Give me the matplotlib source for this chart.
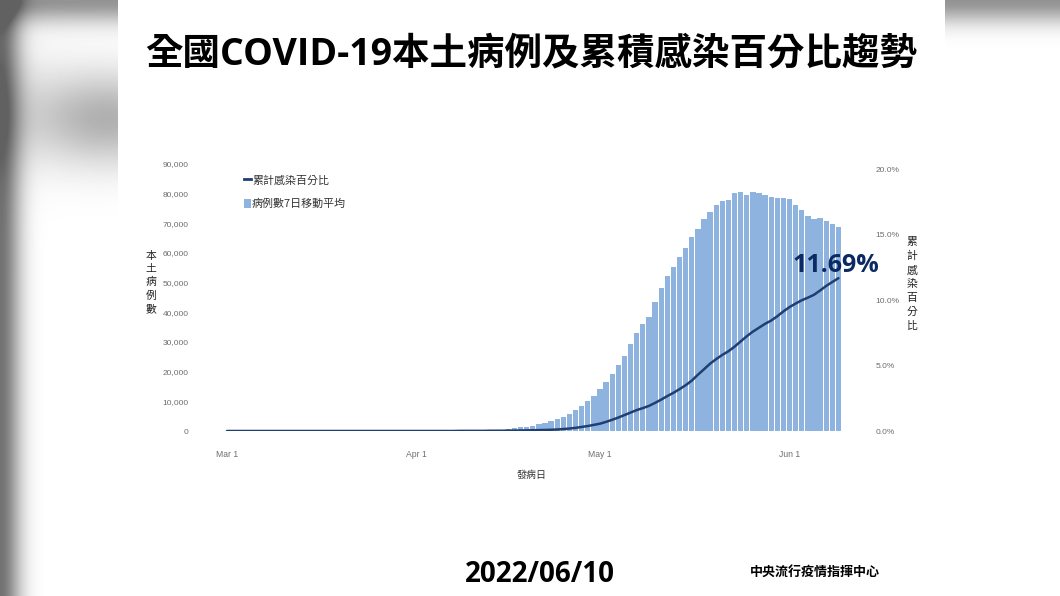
"""
全國COVID-19本土病例及累積感染百分比趨勢
"""

import numpy as np
import pandas as pd
import matplotlib
matplotlib.use('Agg')
import matplotlib.pyplot as plt
import matplotlib.dates as mdates
from matplotlib.lines import Line2D
from matplotlib.patches import Patch, Rectangle

plt.rcParams['font.family'] = ['Noto Sans CJK TC', 'DejaVu Sans']

W, H = 1060, 596
LATIN_CJK = ['Open Sans', 'Noto Sans CJK TC']

# ============================================================================
# DATA
# ============================================================================

dates = pd.date_range('2022-03-01', '2022-06-09')

cases_7d = [
    10, 10, 10, 10, 12, 12, 12, 12, 15, 15,
    15, 15, 15, 18, 18, 18, 18, 20, 20, 20,
    20, 22, 22, 25, 25, 25, 28, 30, 30, 32,
    35, 35, 40, 40, 45, 50, 55, 65, 80, 100,
    130, 170, 220, 280, 350, 450, 600, 900, 1200, 1450,
    1700, 2200, 2700, 3300, 3900, 4600, 5600, 7000, 8300, 10000,
    11700, 14000, 16400, 19300, 22200, 25200, 29300, 33200, 35900, 38400,
    43500, 48100, 52400, 55400, 58500, 61800, 65400, 68100, 71300, 73700,
    76300, 77600, 78000, 80200, 80500, 79600, 80500, 80100, 79700, 79000,
    78600, 78600, 78200, 76100, 74600, 72500, 71600, 71800, 70700, 69900,
    68600,
]

cum_pct = [
    0.00, 0.00, 0.00, 0.00, 0.00, 0.00, 0.00, 0.00, 0.00, 0.00,
    0.00, 0.00, 0.00, 0.00, 0.00, 0.00, 0.00, 0.00, 0.00, 0.00,
    0.00, 0.00, 0.00, 0.00, 0.00, 0.00, 0.00, 0.00, 0.00, 0.00,
    0.00, 0.00, 0.00, 0.00, 0.00, 0.00, 0.00, 0.00, 0.01, 0.01,
    0.01, 0.01, 0.01, 0.02, 0.02, 0.02, 0.03, 0.03, 0.04, 0.05,
    0.06, 0.07, 0.08, 0.095, 0.115, 0.15, 0.19, 0.24, 0.31, 0.38,
    0.47, 0.56, 0.70, 0.86, 1.03, 1.22, 1.41, 1.60, 1.75, 1.92,
    2.15, 2.40, 2.67, 2.92, 3.20, 3.50, 3.85, 4.30, 4.72, 5.15,
    5.50, 5.82, 6.10, 6.45, 6.85, 7.25, 7.60, 7.90, 8.20, 8.45,
    8.78, 9.15, 9.48, 9.75, 10.00, 10.20, 10.42, 10.75, 11.10, 11.40,
    11.69,
]

left_ticks = [0, 10000, 20000, 30000, 40000, 50000, 60000, 70000, 80000, 90000]
right_ticks = [0, 5, 10, 15, 20]
month_ticks = ['2022-03-01', '2022-04-01', '2022-05-01', '2022-06-01']

BAR_COLOR = '#8fb3df'
LINE_COLOR = '#1f3f73'
TICK_COLOR = '#6e6e6e'


def px(x, y):
    """pixel position (from top left) to figure fraction"""
    return x / W, 1 - y / H


# ============================================================================
# BACKGROUND
# ============================================================================

fig = plt.figure(figsize=(W / 100, H / 100), dpi=100, facecolor='white')

bg = fig.add_axes([0, 0, 1, 1], zorder=0)
xx, yy = np.meshgrid(np.arange(W), np.arange(H))
dark = 0.55 * np.exp(-(xx / 20.0) ** 2)
dark = dark + 0.30 * np.exp(-((xx - 110) / 75.0) ** 2 - ((yy - 118) / 46.0) ** 2)
dark = dark + 0.10 * np.exp(-(xx / 70.0) ** 2 - ((yy - 110) / 60.0) ** 2)
dark = dark + 0.42 * np.exp(-(yy / 22.0) ** 2)
bg.imshow(1 - np.clip(dark, 0, 0.62), cmap='gray', vmin=0, vmax=1, aspect='auto',
          extent=[0, W, H, 0], interpolation='bilinear')
bg.add_patch(Rectangle((118, 0), 827, H, color='white', lw=0))
bg.set_xlim(0, W)
bg.set_ylim(H, 0)
bg.axis('off')

# ============================================================================
# CHART
# ============================================================================

ax_l, ax_r, ax_t, ax_b = 215, 850, 164, 431
ax = fig.add_axes([ax_l / W, 1 - ax_b / H, (ax_r - ax_l) / W, (ax_b - ax_t) / H], zorder=1)
ax.patch.set_alpha(0)

day_px = 6.115
x0 = mdates.date2num(dates[0])
ax.set_xlim(x0 - (227 - ax_l) / day_px, x0 + (ax_r - 227) / day_px)

ax.bar(dates, cases_7d, width=0.87, color=BAR_COLOR, linewidth=0)
ax.set_ylim(0, 90000)
ax.set_yticks(left_ticks)
ax.set_yticklabels([f'{v:,}' for v in left_ticks], family='Liberation Sans',
                   fontsize=6, color=TICK_COLOR)
ax.set_xticks(pd.to_datetime(month_ticks))
ax.set_xticklabels(['Mar 1', 'Apr 1', 'May 1', 'Jun 1'], family='Liberation Sans',
                   fontsize=6.2, color=TICK_COLOR)
ax.tick_params(axis='y', length=0, pad=19)
ax.tick_params(axis='x', length=0, pad=13.5)
for s in ax.spines.values():
    s.set_visible(False)

ax2 = ax.twinx()
ax2.patch.set_alpha(0)
ax2.plot(dates, cum_pct, color=LINE_COLOR, linewidth=1.8, solid_capstyle='round')
ax2.set_ylim(0, 20 * (ax_b - ax_t) / 261.5)
ax2.set_yticks(right_ticks)
ax2.set_yticklabels([f'{v:.1f}%' for v in right_ticks], family='Liberation Sans',
                    fontsize=6, color=TICK_COLOR)
ax2.tick_params(axis='y', length=0, pad=18.5)
for s in ax2.spines.values():
    s.set_visible(False)

handles = [
    Line2D([0], [0], color=LINE_COLOR, linewidth=2),
    Patch(color=BAR_COLOR, linewidth=0),
]
ax2.legend(handles, ['累計感染百分比', '病例數7日移動平均'],
           loc='upper left', bbox_to_anchor=((244 - ax_l) / (ax_r - ax_l), 1 - (175 - ax_t) / (ax_b - ax_t)),
           frameon=False, fontsize=7.9, labelcolor='#333333', handlelength=0.62,
           handleheight=0.9, handletextpad=0.12, labelspacing=1.2,
           borderpad=0, borderaxespad=0)

ax2.annotate(f'{cum_pct[-1]:.2f}%', xy=px(836, 265), xycoords='figure fraction',
             ha='center', va='center', fontsize=18, fontweight='bold', color='#0b2a63',
             family=LATIN_CJK)

# ============================================================================
# TEXT
# ============================================================================

x, y = px(531, 54.5)
fig.text(x, y, '全國COVID-19本土病例及累積感染百分比趨勢', ha='center', va='center',
         fontsize=27, fontweight='bold', color='black', family=LATIN_CJK)

x, y = px(151, 282.5)
fig.text(x, y, '\n'.join('本土病例數'), ha='center', va='center', fontsize=7.8,
         color='#222222', linespacing=1.4)
x, y = px(912, 284)
fig.text(x, y, '\n'.join('累計感染百分比'), ha='center', va='center', fontsize=7.8,
         color='#222222', linespacing=1.48)
x, y = px(532, 475)
fig.text(x, y, '發病日', ha='center', va='center', fontsize=7.2, color='#333333')

x, y = px(540, 575)
fig.text(x, y, '2022/06/10', ha='center', va='center', fontsize=20,
         fontweight='bold', color='black', family=LATIN_CJK)
x, y = px(814.5, 573)
fig.text(x, y, '中央流行疫情指揮中心', ha='center', va='center', fontsize=9.4,
         fontweight='bold', color='black')

fig.savefig('out.png', dpi=100)
